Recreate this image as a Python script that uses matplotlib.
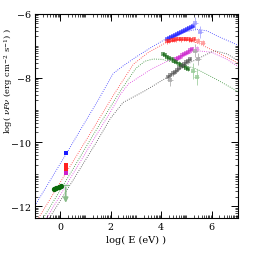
import numpy as np
import matplotlib
matplotlib.use('Agg')
import matplotlib.pyplot as plt
from matplotlib.ticker import FixedLocator

plt.rcParams['font.family'] = 'DejaVu Serif'
plt.rcParams['mathtext.fontset'] = 'dejavuserif'

# model curves (log E, log nuFnu)
blue_x = [-1.0, 0.26, 0.8, 1.5, 2.1, 2.5, 3.0, 3.6, 4.28, 4.9, 5.4, 5.8, 6.3, 7.1]
blue_y = [-11.98, -10.34, -9.62, -8.7, -7.86, -7.62, -7.35, -7.05, -6.74, -6.58, -6.48, -6.53, -6.72, -7.0]
red_x = [-0.85, 0.2, 1.2, 2.1, 2.9, 3.5, 4.28, 4.74, 5.2, 5.53, 6.2, 7.1]
red_y = [-12.36, -11.0, -9.72, -8.55, -7.57, -7.2, -6.86, -6.8, -6.85, -6.94, -7.2, -7.56]
green_x = [-0.66, 0.5, 1.25, 2.37, 3.0, 3.35, 3.68, 4.02, 4.7, 5.4, 6.2, 7.1]
green_y = [-12.36, -10.85, -9.85, -8.42, -7.7, -7.48, -7.41, -7.42, -7.55, -7.72, -8.05, -8.45]
mag_x = [-0.53, 0.5, 1.38, 2.0, 2.4, 2.7, 3.62, 4.5, 5.4, 6.0, 6.6, 7.1]
mag_y = [-12.36, -11.0, -9.85, -9.05, -8.5, -8.19, -7.72, -7.38, -7.15, -7.2, -7.42, -7.67]
gray_x = [-0.42, 0.5, 1.4, 2.0, 2.5, 3.36, 4.3, 5.2, 6.1, 6.6, 7.1]
gray_y = [-12.36, -11.2, -10.05, -9.25, -8.76, -8.4, -7.95, -7.5, -7.15, -7.25, -7.48]

# X-ray spectra
bx_x = [4.25, 4.32, 4.4, 4.48, 4.56, 4.64, 4.72, 4.8, 4.88, 4.96, 5.04, 5.12, 5.2, 5.26]
bx_y = [-6.79, -6.74, -6.73, -6.69, -6.66, -6.62, -6.6, -6.57, -6.54, -6.5, -6.46, -6.44, -6.41, -6.38]
bx2_x = [5.34, 5.55]
bx2_y = [-6.3, -6.57]
rx_x = [4.25, 4.33, 4.42, 4.5, 4.6, 4.7, 4.8, 4.9, 5.0, 5.1, 5.2, 5.3]
rx_y = [-6.86, -6.84, -6.82, -6.82, -6.8, -6.79, -6.8, -6.78, -6.79, -6.8, -6.81, -6.8]
rx2_x = [5.47, 5.65]
rx2_y = [-6.84, -6.9]
mx_x = [4.58, 4.66, 4.74, 4.82, 4.9, 4.98, 5.06, 5.14, 5.21]
mx_y = [-7.42, -7.38, -7.34, -7.3, -7.26, -7.22, -7.18, -7.14, -7.1]
mx2_x = [5.4]
mx2_y = [-7.1]
gx_x = [4.08, 4.16, 4.24, 4.33, 4.42, 4.51, 4.6, 4.7, 4.8, 4.9, 5.0, 5.07]
gx_y = [-7.26, -7.3, -7.34, -7.38, -7.42, -7.46, -7.5, -7.55, -7.6, -7.64, -7.69, -7.72]
gx2_x = [5.27, 5.4]
gx2_y = [-7.78, -7.98]
kx_x = [4.28, 4.36, 4.45, 4.54, 4.63, 4.72, 4.81, 4.9, 4.98, 5.06, 5.14]
kx_y = [-7.98, -7.92, -7.86, -7.8, -7.74, -7.68, -7.62, -7.56, -7.5, -7.46, -7.41]
kx2_x = [4.35, 5.34, 5.47]
kx2_y = [-8.05, -7.15, -7.41]

# optical / UV points
uv_blue_x, uv_blue_y = [0.22], [-10.33]
uv_red_x, uv_red_y = [0.22, 0.22], [-10.7, -10.85]
uv_mag_x, uv_mag_y = [0.22], [-10.95]
opt_green_x = [-0.25, -0.15, -0.05, 0.05]
opt_green_y = [-11.46, -11.43, -11.41, -11.38]
ul_x, ul_top, ul_bot = 0.22, -11.33, -11.98

fig = plt.figure(figsize=(2.55, 2.55), dpi=100)
ax = fig.add_axes([0.137, 0.142, 0.796, 0.8])

lw = 0.6
ax.plot(blue_x, blue_y, ':', color='#3333ff', lw=lw)
ax.plot(red_x, red_y, ':', color='#ff3333', lw=lw)
ax.plot(green_x, green_y, ':', color='#2e8b2e', lw=lw)
ax.plot(mag_x, mag_y, ':', color='#dd33dd', lw=lw)
ax.plot(gray_x, gray_y, ':', color='#444444', lw=lw)

def xray(x, y, c, xe=0.05, ye=0.07, a=0.55):
    ax.errorbar(x, y, xerr=xe, yerr=ye, fmt='s', ms=2.5, color=c, ecolor=c,
                elinewidth=0.7, capsize=0, alpha=a, mew=0)

xray(bx_x, bx_y, '#2020ff')
xray(bx2_x, bx2_y, '#9999ff', xe=0.1, ye=0.2, a=0.7)
xray(rx_x, rx_y, '#ff2020')
xray(rx2_x, rx2_y, '#ff9999', xe=0.1, ye=0.08, a=0.8)
xray(mx_x, mx_y, '#cc22cc')
xray(mx2_x, mx2_y, '#e899e8', xe=0.1, ye=0.1, a=0.8)
xray(gx_x, gx_y, '#116611')
xray(gx2_x, gx2_y, '#99cc99', xe=0.1, ye=0.25, a=0.8)
xray(kx_x, kx_y, '#555555')
xray(kx2_x, kx2_y, '#aaaaaa', xe=0.1, ye=0.2, a=0.8)

ax.errorbar(uv_blue_x, uv_blue_y, yerr=0.04, fmt='s', ms=3.5, color='#1a1aff', mew=0)
ax.errorbar(uv_red_x, uv_red_y, yerr=0.06, fmt='s', ms=3, color='#ff2020', mew=0)
ax.errorbar(uv_mag_x, uv_mag_y, yerr=0.04, fmt='s', ms=3, color='#cc22cc', mew=0)
ax.plot(opt_green_x, opt_green_y, '-o', color='#0a6a0a', ms=2.8, lw=1)
ax.annotate('', xy=(ul_x, ul_bot), xytext=(ul_x, ul_top),
            arrowprops=dict(arrowstyle='-|>', color='#88bb88', lw=1.2, mutation_scale=7))
ax.plot([ul_x - 0.08, ul_x + 0.08], [ul_top, ul_top], color='#88bb88', lw=1)

ax.set_xlim(-1, 7.04)
ax.set_ylim(-12.36, -6)
ax.set_xticks([0, 2, 4, 6])
ax.set_yticks([-12, -10, -8, -6])
ax.set_xticklabels(['0', '2', '4', '6'])
ax.set_yticklabels(['\u221212', '\u221210', '\u22128', '\u22126'])

xmin = [n + np.log10(k) for n in range(-1, 8) for k in range(1, 10) if n + np.log10(k) not in (0, 2, 4, 6)]
ymin = [n + np.log10(k) for n in range(-13, -5) for k in range(1, 10) if n + np.log10(k) not in (-12, -10, -8, -6)]
ax.xaxis.set_minor_locator(FixedLocator(xmin))
ax.yaxis.set_minor_locator(FixedLocator(ymin))
ax.tick_params(which='major', direction='in', length=5, width=0.7, top=True, right=True,
               labelsize=6.8, pad=3)
ax.tick_params(which='minor', direction='in', length=2.5, width=0.5, top=True, right=True)
for s in ax.spines.values():
    s.set_linewidth(0.8)

ax.set_xlabel('log( E (eV) )', fontsize=7, labelpad=3)
ax.set_ylabel(r'log( $\nu F \nu$ (erg cm$^{-2}$ s$^{-1}$) )', fontsize=6)
ax.yaxis.set_label_coords(-0.1, 0.675)

fig.savefig('out.png', dpi=100)
